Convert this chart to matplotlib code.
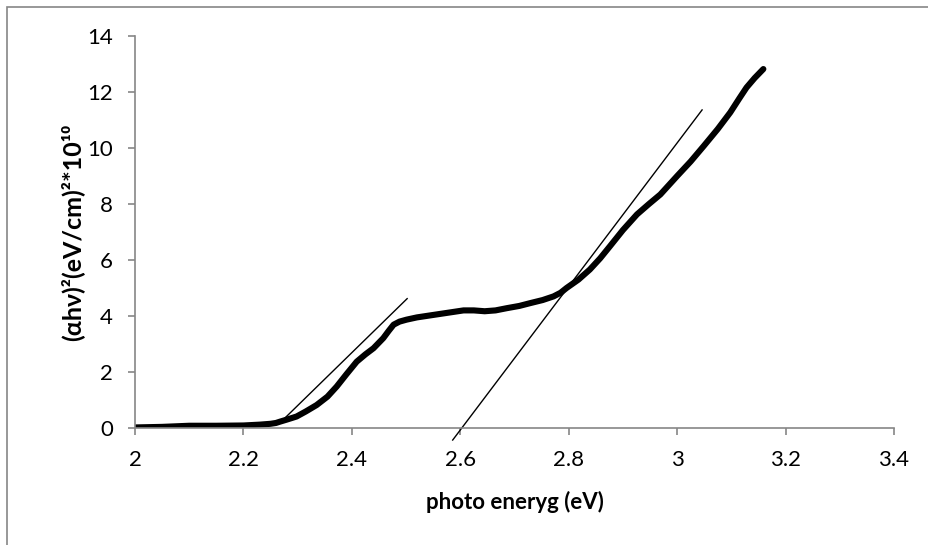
import matplotlib
matplotlib.use("Agg")
import matplotlib.pyplot as plt
from matplotlib.patches import Rectangle

# curve
energy = [2.0, 2.05, 2.1, 2.15, 2.2, 2.23, 2.25, 2.26, 2.268, 2.28, 2.298, 2.315, 2.335,
          2.355, 2.372, 2.39, 2.409, 2.425, 2.44, 2.458, 2.468, 2.477, 2.488, 2.501,
          2.52, 2.544, 2.575, 2.606, 2.625, 2.645, 2.665, 2.686, 2.709, 2.729, 2.752,
          2.772, 2.785, 2.796, 2.818, 2.839, 2.858, 2.876, 2.9, 2.926, 2.948, 2.969,
          3.0, 3.025, 3.049, 3.075, 3.098, 3.115, 3.128, 3.143, 3.159]
signal = [0.02, 0.04, 0.08, 0.08, 0.09, 0.12, 0.15, 0.18, 0.23, 0.3, 0.41, 0.59, 0.82,
          1.12, 1.48, 1.92, 2.37, 2.63, 2.85, 3.21, 3.47, 3.69, 3.8, 3.87,
          3.95, 4.02, 4.11, 4.2, 4.2, 4.17, 4.2, 4.28, 4.36, 4.46, 4.57,
          4.70, 4.83, 5.0, 5.3, 5.66, 6.06, 6.49, 7.07, 7.63, 8.0, 8.34,
          9.0, 9.52, 10.07, 10.68, 11.27, 11.78, 12.16, 12.5, 12.82]

# tangent lines
tan1_x = [2.273, 2.502]
tan1_y = [0.29, 4.62]
tan2_x = [2.586, 3.046]
tan2_y = [-0.43, 11.36]

xticks = [2, 2.2, 2.4, 2.6, 2.8, 3, 3.2, 3.4]
yticks = [0, 2, 4, 6, 8, 10, 12, 14]

plt.rcParams['font.family'] = ['Lato', 'DejaVu Sans']

fig = plt.figure(figsize=(9.29, 5.45), dpi=100)
ax = fig.add_axes([135 / 929, 1 - 428 / 545, (894 - 135) / 929, (428 - 36) / 545])

ax.plot(energy, signal, color='black', linewidth=4.4, solid_capstyle='round',
        solid_joinstyle='round')
ax.plot(tan1_x, tan1_y, color='black', linewidth=1.0, clip_on=False)
ax.plot(tan2_x, tan2_y, color='black', linewidth=1.0, clip_on=False)

ax.set_xlim(2, 3.4)
ax.set_ylim(0, 14)
ax.set_xticks(xticks)
ax.set_xticklabels([f"{t:g}" for t in xticks])
ax.set_yticks(yticks)

for s in ['top', 'right']:
    ax.spines[s].set_visible(False)
for s in ['left', 'bottom']:
    ax.spines[s].set_color('#868686')
    ax.spines[s].set_linewidth(1.2)
ax.tick_params(axis='both', colors='#868686', length=5, width=1.2, labelsize=16,
               labelcolor='black')
ax.tick_params(axis='x', pad=11)
ax.tick_params(axis='y', pad=11)

ax.set_xlabel("photo eneryg (eV)", fontsize=16, fontweight='bold', labelpad=15)
ax.set_ylabel("(αhν)²(eV/cm)²*10¹⁰", fontsize=18, fontweight='bold', labelpad=2)

# chart frame (cropped on right and bottom)
fig.patches.append(Rectangle((7 / 929, -0.2), 1.2, 1.2 - 7 / 545,
                             transform=fig.transFigure, fill=False,
                             edgecolor='#868686', linewidth=1.2))

fig.savefig("out.png", dpi=100)
